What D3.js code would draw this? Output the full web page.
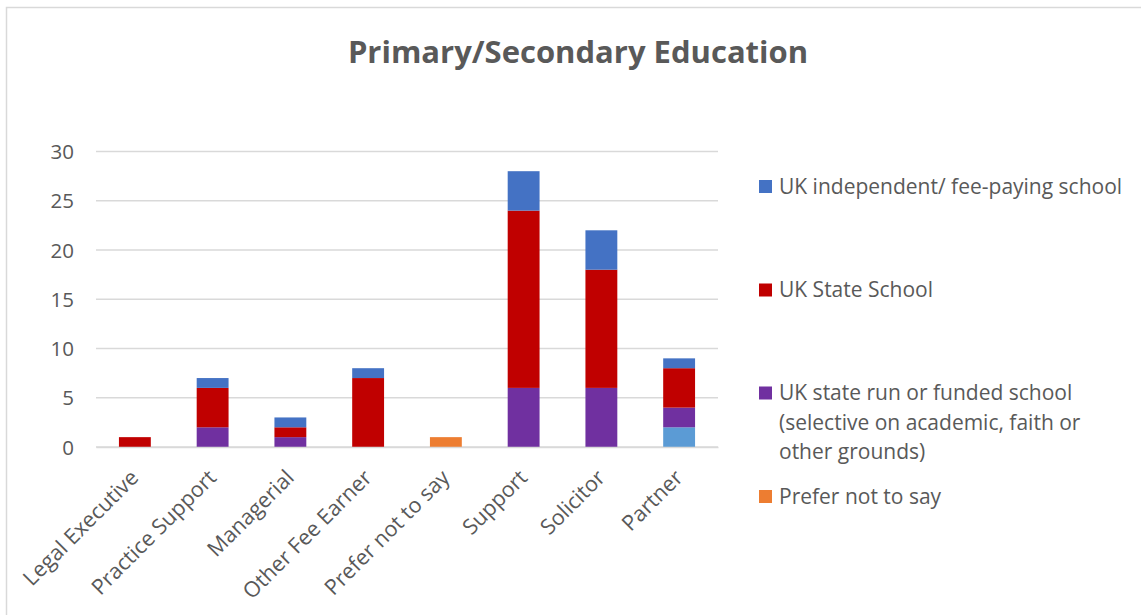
<!DOCTYPE html>
<html>
<head>
<meta charset="utf-8">
<script src="https://cdn.jsdelivr.net/npm/d3@7"></script>
<style>
  html, body { margin: 0; padding: 0; background: #fff; }
  svg { display: block; font-family: "Open Sans", "Noto Sans", sans-serif; }
</style>
</head>
<body>
<svg id="chart" width="1141" height="615"></svg>
<script>
// ---- data ----
const categories = ["Legal Executive", "Practice Support", "Managerial", "Other Fee Earner",
                    "Prefer not to say", "Support", "Solicitor", "Partner"];
const seriesNames = ["Other school", "Prefer not to say",
  "UK state run or funded school (selective on academic, faith or other grounds)",
  "UK State School", "UK independent/ fee-paying school"];
const otherSchool   = [0, 0, 0, 0, 0, 0, 0, 2];
const preferNot     = [0, 0, 0, 0, 1, 0, 0, 0];
const selective     = [0, 2, 1, 0, 0, 6, 6, 2];
const stateSchool   = [1, 4, 1, 7, 0, 18, 12, 4];
const independent   = [0, 1, 1, 1, 0, 4, 4, 1];
const yTicks = [0, 5, 10, 15, 20, 25, 30];
const colors = ["#5B9BD5", "#ED7D31", "#7030A0", "#C00000", "#4472C4"];
const legendItems = [
  {name: "UK independent/ fee-paying school", lines: ["UK independent/ fee-paying school"], color: "#4472C4"},
  {name: "UK State School", lines: ["UK State School"], color: "#C00000"},
  {name: "UK state run or funded school (selective on academic, faith or other grounds)",
   lines: ["UK state run or funded school", "(selective on academic, faith or", "other grounds)"], color: "#7030A0"},
  {name: "Prefer not to say", lines: ["Prefer not to say"], color: "#ED7D31"}
];

const seriesValues = [otherSchool, preferNot, selective, stateSchool, independent];
const rows = categories.map((c, i) => {
  const r = {cat: c};
  seriesNames.forEach((s, k) => r[s] = seriesValues[k][i]);
  return r;
});

const svg = d3.select("#chart");
const textColor = "#595959";

// chart border
svg.append("rect").attr("x", 6.5).attr("y", 7.5).attr("width", 1160).attr("height", 640)
  .attr("fill", "none").attr("stroke", "#d9d9d9").attr("stroke-width", 1.5);

const plot = {left: 96, right: 718, top: 151.5, bottom: 447};
const x = d3.scaleBand().domain(categories).range([plot.left, plot.right]).paddingInner(0.59).paddingOuter(0.295);
const y = d3.scaleLinear().domain([0, 30]).range([plot.bottom, plot.top]);

// gridlines
svg.append("g").selectAll("line").data(yTicks).join("line")
  .attr("x1", plot.left).attr("x2", plot.right)
  .attr("y1", d => y(d)).attr("y2", d => y(d))
  .attr("stroke", "#d9d9d9").attr("stroke-width", 1.5);

// y axis labels
const yAxis = d3.axisLeft(y).tickValues(yTicks).tickSize(0).tickPadding(0);
const gy = svg.append("g").attr("transform", `translate(74,0)`).call(yAxis);
gy.select(".domain").remove();
gy.selectAll("text").attr("fill", textColor).style("font-size", "20.5px")
  .style("font-family", "'Open Sans', sans-serif").attr("dy", "0.35em");

// bars
const stack = d3.stack().keys(seriesNames);
const stacked = stack(rows);
svg.append("g").selectAll("g").data(stacked).join("g")
  .attr("fill", (d, i) => colors[i])
  .selectAll("rect").data(d => d.map(v => ({v, cat: v.data.cat}))).join("rect")
  .filter(d => d.v[1] - d.v[0] > 0)
  .attr("x", d => x(d.cat)).attr("width", x.bandwidth())
  .attr("y", d => y(d.v[1])).attr("height", d => y(d.v[0]) - y(d.v[1]));

// x axis labels
const xAxis = d3.axisBottom(x).tickSize(0).tickPadding(0);
const gx = svg.append("g").attr("transform", `translate(0,${plot.bottom})`).call(xAxis);
gx.select(".domain").attr("stroke", "#d9d9d9").attr("stroke-width", 1.5);
gx.selectAll("text").attr("fill", textColor).style("font-size", "21.5px")
  .style("font-family", "'Open Sans', sans-serif")
  .attr("text-anchor", "end").attr("dy", null).attr("y", 0)
  .attr("transform", "translate(5,32) rotate(-45)");

// title
svg.append("text").attr("x", 578).attr("y", 63).attr("text-anchor", "middle")
  .attr("fill", textColor).style("font-size", "31px").style("font-weight", "bold")
  .text("Primary/Secondary Education");

// legend
const legendY = [186.5, 290, 393, 496.5];
const lg = svg.append("g");
legendItems.forEach((it, i) => {
  const g = lg.append("g").attr("transform", `translate(759,${legendY[i]})`);
  g.append("rect").attr("x", 0).attr("y", -6.5).attr("width", 13).attr("height", 13).attr("fill", it.color);
  const t = g.append("text").attr("x", 20).attr("y", 0).attr("fill", textColor).style("font-size", "21px");
  it.lines.forEach((ln, j) => t.append("tspan").attr("x", 20).attr("y", j * 29.5).attr("dy", "0.35em").text(ln));
});
</script>
</body>
</html>
